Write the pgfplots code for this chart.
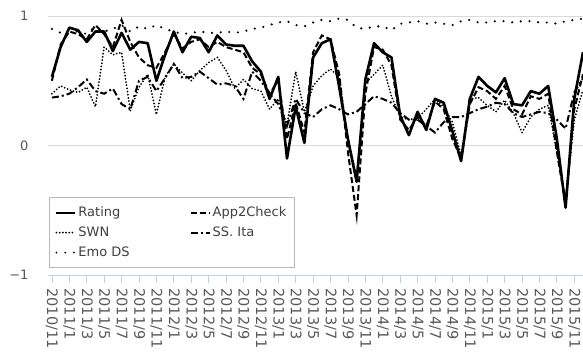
\documentclass[border=0pt]{standalone}
\usepackage{pgfplots}
\usepackage{pgfplotstable}
\pgfplotsset{compat=1.18}
\usepackage{fontspec}
\setmainfont{DejaVu Sans}
\definecolor{ticklbl}{RGB}{89,89,89}
\definecolor{gridc}{RGB}{217,217,217}
\definecolor{axisblue}{RGB}{190,208,232}
\definecolor{legtxt}{RGB}{64,64,64}

\pgfplotstableread{
i rating app swn emo ssita
0 0.53 0.50 0.40 0.90 0.37
1 0.76 0.78 0.46 0.87 0.38
2 0.91 0.88 0.43 0.89 0.40
3 0.89 0.86 0.41 0.88 0.45
4 0.80 0.82 0.45 0.86 0.51
5 0.88 0.93 0.30 0.92 0.42
6 0.88 0.86 0.76 0.88 0.40
7 0.73 0.76 0.70 0.90 0.44
8 0.87 0.97 0.72 0.93 0.32
9 0.74 0.80 0.27 0.88 0.28
10 0.80 0.68 0.45 0.92 0.50
11 0.79 0.62 0.55 0.90 0.53
12 0.50 0.60 0.24 0.93 0.42
13 0.70 0.72 0.53 0.90 0.52
14 0.88 0.86 0.63 0.88 0.63
15 0.72 0.75 0.56 0.86 0.52
16 0.84 0.80 0.50 0.87 0.53
17 0.83 0.82 0.58 0.88 0.57
18 0.72 0.76 0.64 0.87 0.52
19 0.85 0.80 0.68 0.87 0.47
20 0.78 0.76 0.58 0.88 0.48
21 0.77 0.74 0.44 0.87 0.46
22 0.77 0.72 0.51 0.88 0.36
23 0.65 0.60 0.44 0.90 0.57
24 0.57 0.55 0.42 0.91 0.50
25 0.36 0.40 0.28 0.93 0.40
26 0.53 0.50 0.36 0.95 0.32
27 -0.10 0.05 0.16 0.96 0.15
28 0.30 0.33 0.57 0.93 0.36
29 0.02 0.10 0.26 0.92 0.25
30 0.68 0.72 0.46 0.95 0.22
31 0.79 0.85 0.54 0.97 0.28
32 0.82 0.82 0.59 0.96 0.31
33 0.45 0.55 0.53 0.98 0.28
34 0.05 -0.05 0.05 0.97 0.24
35 -0.28 -0.54 -0.24 0.91 0.26
36 0.51 0.40 0.48 0.90 0.32
37 0.79 0.76 0.55 0.92 0.38
38 0.72 0.74 0.62 0.92 0.36
39 0.68 0.62 0.38 0.89 0.33
40 0.23 0.20 0.22 0.94 0.25
41 0.08 0.12 0.20 0.95 0.20
42 0.26 0.22 0.21 0.96 0.20
43 0.12 0.15 0.28 0.94 0.15
44 0.36 0.34 0.36 0.95 0.10
45 0.33 0.28 0.30 0.94 0.18
46 0.11 0.05 0.18 0.93 0.22
47 -0.12 -0.10 -0.08 0.96 0.22
48 0.36 0.32 0.36 0.97 0.25
49 0.53 0.45 0.37 0.95 0.28
50 0.46 0.42 0.31 0.95 0.30
51 0.41 0.36 0.26 0.96 0.33
52 0.52 0.46 0.35 0.96 0.32
53 0.32 0.28 0.25 0.95 0.25
54 0.31 0.24 0.10 0.96 0.22
55 0.42 0.38 0.22 0.96 0.24
56 0.40 0.36 0.28 0.95 0.26
57 0.46 0.40 0.31 0.95 0.25
58 0.05 -0.05 -0.05 0.94 0.20
59 -0.48 -0.45 -0.43 0.96 0.13
60 0.36 0.28 0.20 0.97 0.41
61 0.72 0.55 0.43 0.98 0.52
}\datatable

\begin{document}
\begin{tikzpicture}
\useasboundingbox (-48pt,-76pt) rectangle (535pt,275pt);
\begin{axis}[
  at={(0,0)}, anchor=south west,
  scale only axis,
  width=535pt, height=259pt,
  xmin=-0.45, xmax=61,
  ymin=-1, ymax=1,
  axis lines=left,
  x axis line style={-, draw=axisblue, line width=0.8pt},
  y axis line style={draw=none},
  ytick={-1,0,1},
  yticklabels={−1,0,1},
  ytick style={draw=none},
  ymajorgrids,
  grid style={draw=gridc, line width=0.8pt},
  xtick={0,2,...,60},
  xticklabels={2010/11,2011/1,2011/3,2011/5,2011/7,2011/9,2011/11,2012/1,2012/3,2012/5,2012/7,2012/9,2012/11,2013/1,2013/3,2013/5,2013/7,2013/9,2013/11,2014/1,2014/3,2014/5,2014/7,2014/9,2014/11,2015/1,2015/3,2015/5,2015/7,2015/9,2015/11},
  xtick align=outside,
  major tick length=8pt,
  x tick style={draw=axisblue, line width=0.8pt},
  x tick label style={rotate=-90, anchor=west, font=\fontsize{14.5}{16}\selectfont, text=ticklbl, xshift=2pt},
  y tick label style={font=\fontsize{13}{15}\selectfont, text=ticklbl, xshift=-12pt},
  legend columns=2,
  legend cell align=left,
  legend style={
    at={(0.002,0.027)}, anchor=south west,
    draw=gray!55, fill=white, line width=0.8pt,
    font=\fontsize{13}{15}\selectfont, text=legtxt,
    inner xsep=6pt, inner ysep=5pt,
    nodes={text height=10pt, text depth=3pt, inner ysep=3.5pt},
    /tikz/every even column/.append style={column sep=58pt},
  },
  legend image code/.code={\draw[#1, line width=2pt] (0pt,0pt) -- (19pt,0pt);},
]
\addplot[black, line width=2.6pt, line join=round] table[x=i, y=rating] {\datatable};
\addlegendentry{Rating}
\addplot[black, line width=2pt, dash pattern=on 6pt off 3pt] table[x=i, y=app] {\datatable};
\addlegendentry{App2Check}
\addplot[black, line width=2pt, line cap=round, dash pattern=on 0pt off 3.2pt] table[x=i, y=swn] {\datatable};
\addlegendentry{SWN}
\addplot[black, line width=2pt, dash pattern=on 7pt off 3pt on 2pt off 3pt] table[x=i, y=ssita] {\datatable};
\addlegendentry{SS. Ita}
\addplot[black, line width=2.4pt, line cap=round, dash pattern=on 0pt off 8.7pt] table[x=i, y=emo] {\datatable};
\addlegendentry{Emo DS}
\end{axis}
\end{tikzpicture}
\end{document}
